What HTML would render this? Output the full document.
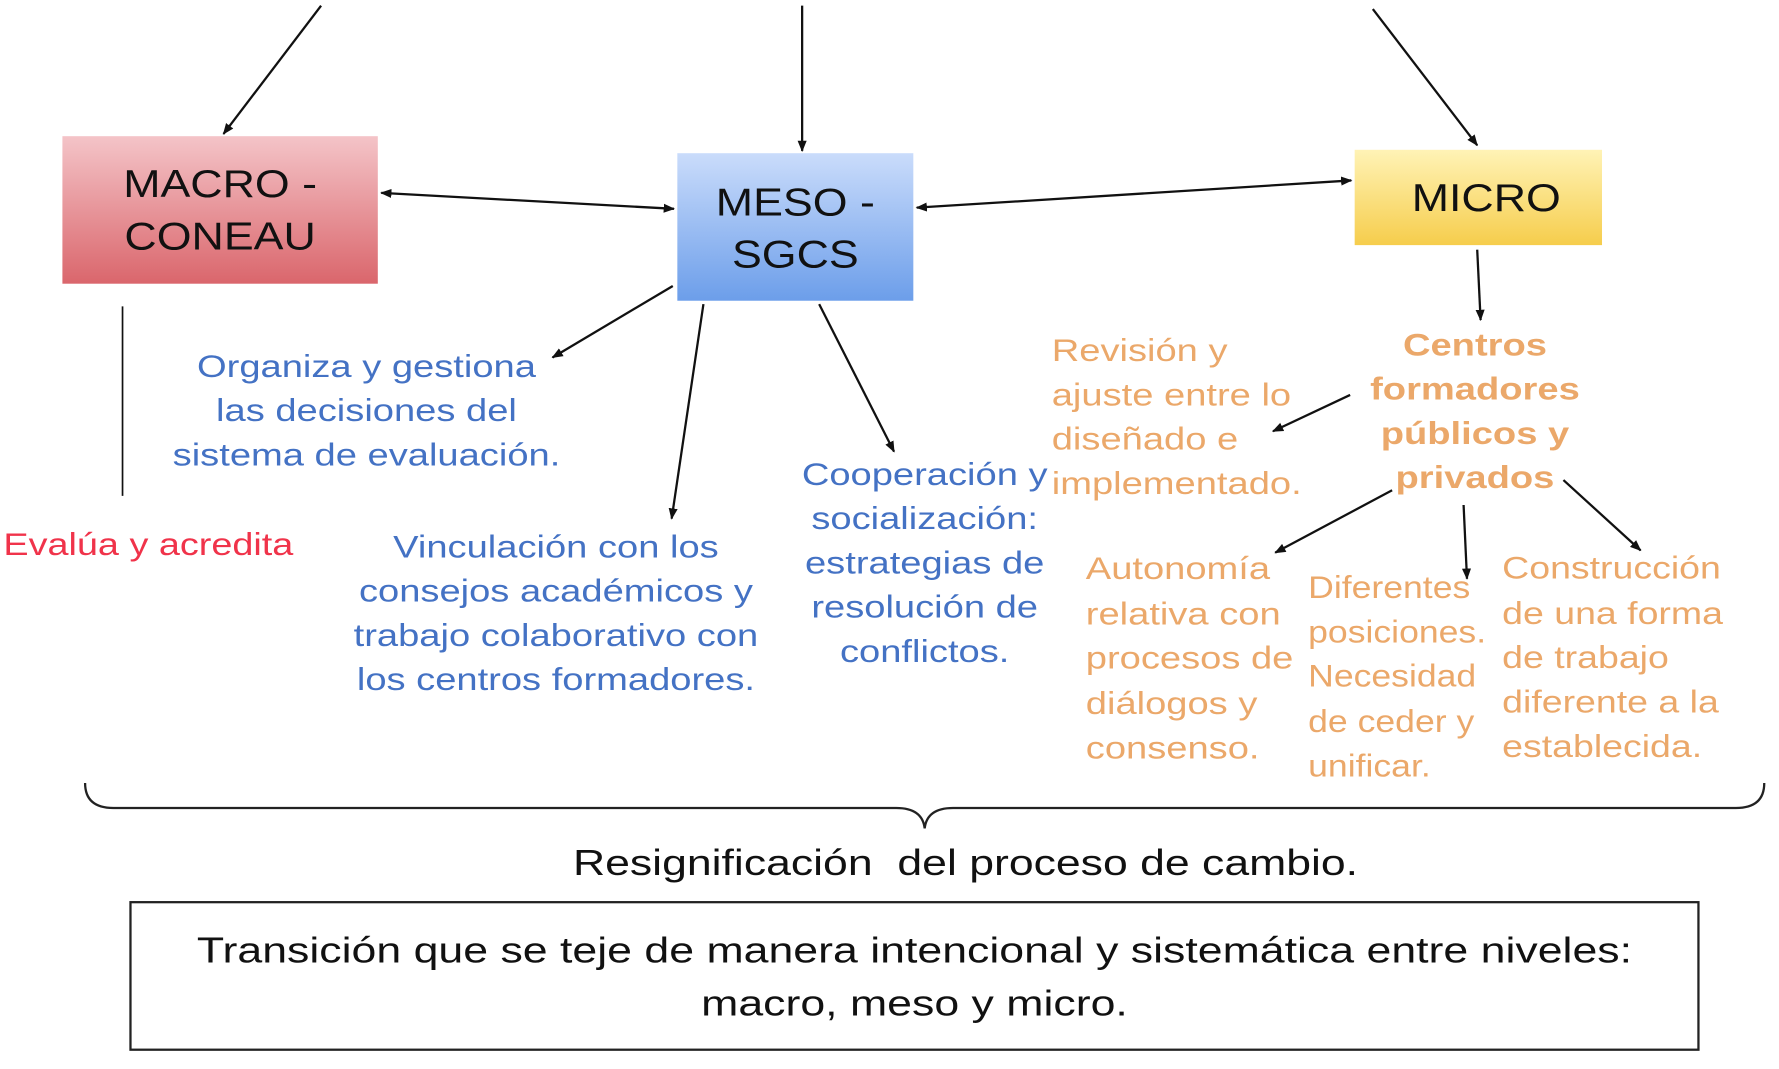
<!DOCTYPE html>
<html><head><meta charset="utf-8"><style>
html,body{margin:0;padding:0;background:#fff;}
svg{display:block;}
text{font-family:"Liberation Sans",Arial,sans-serif;}
</style></head><body>
<svg width="1779" height="1069" viewBox="0 0 1568 942" preserveAspectRatio="none" xmlns="http://www.w3.org/2000/svg">
<defs>
<linearGradient id="gr" x1="0" y1="0" x2="0" y2="1"><stop offset="0" stop-color="#f4c4c8"/><stop offset="1" stop-color="#da666c"/></linearGradient>
<linearGradient id="gb" x1="0" y1="0" x2="0" y2="1"><stop offset="0" stop-color="#cadcfb"/><stop offset="1" stop-color="#6c9eea"/></linearGradient>
<linearGradient id="gy" x1="0" y1="0" x2="0" y2="1"><stop offset="0" stop-color="#fff3b6"/><stop offset="1" stop-color="#f6cd4c"/></linearGradient>
<marker id="a" markerWidth="10" markerHeight="10" refX="9" refY="5" orient="auto" markerUnits="userSpaceOnUse"><path d="M0,1 L10,5 L0,9 Z" fill="#111"/></marker>
<marker id="s" markerWidth="10" markerHeight="10" refX="1" refY="5" orient="auto" markerUnits="userSpaceOnUse"><path d="M10,1 L0,5 L10,9 Z" fill="#111"/></marker>
</defs>
<rect x="55" y="120" width="278" height="130" fill="url(#gr)"/>
<rect x="597" y="135" width="208" height="130" fill="url(#gb)"/>
<rect x="1194" y="132" width="218" height="84" fill="url(#gy)"/>
<g font-size="34" fill="#111" text-anchor="middle" dominant-baseline="central">
<g transform="translate(194,0) scale(1.16,1)"><text x="0" y="162">MACRO -</text><text x="0" y="208">CONEAU</text></g>
<g transform="translate(701,0) scale(1.16,1)"><text x="0" y="178">MESO -</text><text x="0" y="224">SGCS</text></g>
<g transform="translate(1310,0) scale(1.16,1)"><text x="0" y="174">MICRO</text></g>
</g>
<g stroke="#111" stroke-width="2" fill="none" marker-end="url(#a)">
<line x1="283" y1="5" x2="197" y2="118"/>
<line x1="707" y1="5" x2="707" y2="133"/>
<line x1="1210" y1="8" x2="1302" y2="128"/>
<line x1="336" y1="170" x2="594" y2="184" marker-start="url(#s)"/>
<line x1="808" y1="183" x2="1191" y2="159" marker-start="url(#s)"/>
<line x1="593" y1="252" x2="487" y2="315"/>
<line x1="620" y1="268" x2="592" y2="457"/>
<line x1="722" y1="268" x2="788" y2="398"/>
<line x1="1302" y1="220" x2="1305" y2="282"/>
<line x1="1190" y1="348" x2="1122" y2="380"/>
<line x1="1227" y1="432" x2="1124" y2="487"/>
<line x1="1290" y1="445" x2="1293" y2="510"/>
<line x1="1378" y1="423" x2="1446" y2="485"/>
</g>
<line x1="108" y1="270" x2="108" y2="437" stroke="#111" stroke-width="1.5"/>
<g font-size="28" fill="#4472c4" text-anchor="middle" dominant-baseline="central">
<g transform="translate(323,0) scale(1.2,1)"><text x="0" y="323">Organiza y gestiona</text><text x="0" y="362">las decisiones del</text><text x="0" y="401">sistema de evaluación.</text></g>
<g transform="translate(490,0) scale(1.2,1)"><text x="0" y="482">Vinculación con los</text><text x="0" y="521">consejos académicos y</text><text x="0" y="560">trabajo colaborativo con</text><text x="0" y="599">los centros formadores.</text></g>
<g transform="translate(815,0) scale(1.2,1)"><text x="0" y="418">Cooperación y</text><text x="0" y="457">socialización:</text><text x="0" y="496">estrategias de</text><text x="0" y="535">resolución de</text><text x="0" y="574">conflictos.</text></g>
</g>
<g transform="translate(3,0) scale(1.19,1)"><text x="0" y="480" font-size="28" fill="#f0334a" dominant-baseline="central">Evalúa y acredita</text></g>
<g font-size="28" fill="#eba86a" dominant-baseline="central">
<g transform="translate(927,0) scale(1.2,1)"><text x="0" y="309">Revisión y</text><text x="0" y="348">ajuste entre lo</text><text x="0" y="387">diseñado e</text><text x="0" y="426">implementado.</text></g>
<g transform="translate(957,0) scale(1.2,1)"><text x="0" y="501">Autonomía</text><text x="0" y="541">relativa con</text><text x="0" y="580">procesos de</text><text x="0" y="620">diálogos y</text><text x="0" y="659">consenso.</text></g>
<g transform="translate(1153,0) scale(1.12,1)"><text x="0" y="518">Diferentes</text><text x="0" y="557">posiciones.</text><text x="0" y="596">Necesidad</text><text x="0" y="636">de ceder y</text><text x="0" y="675">unificar.</text></g>
<g transform="translate(1324,0) scale(1.18,1)"><text x="0" y="501">Construcción</text><text x="0" y="541">de una forma</text><text x="0" y="580">de trabajo</text><text x="0" y="619">diferente a la</text><text x="0" y="658">establecida.</text></g>
</g>
<g font-size="28" font-weight="bold" fill="#eba86a" text-anchor="middle" dominant-baseline="central" transform="translate(1300,0) scale(1.2,1)">
<text x="0" y="304">Centros</text><text x="0" y="343">formadores</text><text x="0" y="382">públicos y</text><text x="0" y="421">privados</text>
</g>
<path d="M75,690 Q75,712 100,712 L790,712 Q813,712 815,730 Q817,712 840,712 L1530,712 Q1555,712 1555,690" fill="none" stroke="#222" stroke-width="2"/>
<text x="505" y="760" font-size="32" fill="#111" dominant-baseline="central" textLength="692" lengthAdjust="spacingAndGlyphs" xml:space="preserve">Resignificación  del proceso de cambio.</text>
<rect x="115" y="795" width="1382" height="130" fill="none" stroke="#222" stroke-width="2"/>
<g font-size="32" fill="#111" text-anchor="middle" dominant-baseline="central" transform="translate(806,0) scale(1.23,1)">
<text x="0" y="837">Transición que se teje de manera intencional y sistemática entre niveles:</text>
<text x="0" y="884">macro, meso y micro.</text>
</g>
</svg>
</body></html>
